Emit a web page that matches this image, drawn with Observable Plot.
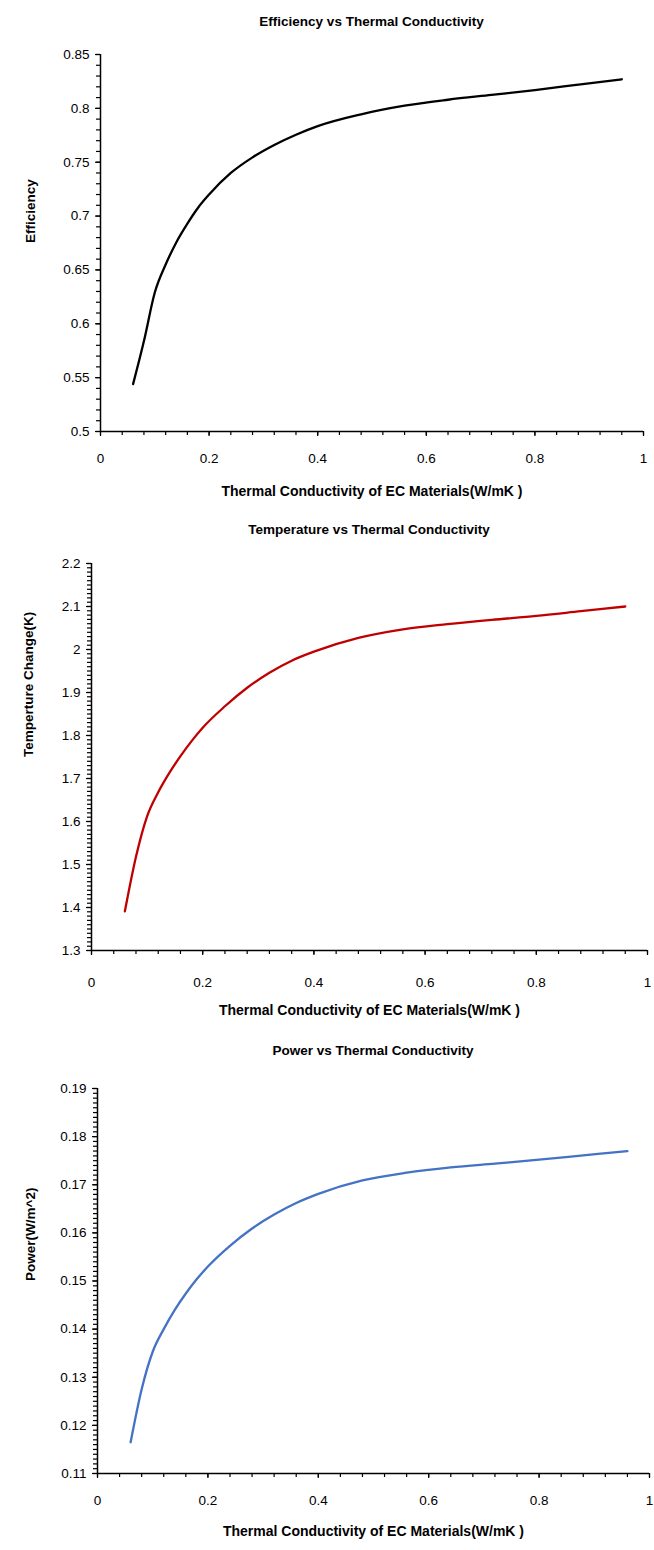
<!DOCTYPE html>
<html><head><meta charset="utf-8">
<script src="https://cdn.jsdelivr.net/npm/d3@7"></script>
<script src="https://cdn.jsdelivr.net/npm/@observablehq/plot@0.6"></script>
<style>
body{margin:0;background:#fff;font-family:"Liberation Sans",Arial,sans-serif;}
#wrap{position:relative;width:654px;height:1550px;overflow:hidden;}
.title{position:absolute;font-weight:bold;font-size:13.5px;white-space:nowrap;transform:translate(-50%,-50%);color:#000;}
#wrap svg{position:absolute;left:0;}
</style></head><body><div id="wrap"></div>
<script>
// ---- data ----
const conductivity = [0.06,0.08,0.1,0.12,0.14,0.16,0.18,0.2,0.24,0.28,0.32,0.36,0.4,0.48,0.56,0.64,0.72,0.8,0.88,0.96];
const efficiency   = [0.544,0.584,0.629,0.655,0.676,0.693,0.708,0.720,0.740,0.7545,0.766,0.7755,0.7835,0.7945,0.8025,0.808,0.8125,0.817,0.822,0.827];
const temperature  = [1.391,1.518,1.612,1.668,1.713,1.752,1.787,1.818,1.868,1.911,1.946,1.974,1.995,2.027,2.047,2.059,2.069,2.078,2.089,2.100];
const power        = [0.1165,0.1275,0.1353,0.1400,0.1440,0.1474,0.1504,0.1530,0.1573,0.1609,0.1638,0.1662,0.1681,0.1709,0.1725,0.1736,0.1744,0.1752,0.1761,0.1770];

const chartTitles = ["Efficiency vs Thermal Conductivity","Temperature vs Thermal Conductivity","Power vs Thermal Conductivity"];
const yTitles = ["Efficiency","Temperture Change(K)","Power(W/m^2)"];
const xTitle = "Thermal Conductivity of EC Materials(W/mK )";

const xTicks = [0,0.2,0.4,0.6,0.8,1];
const xMinorTicks = d3.range(0,1.0001,0.04);
const effTicks = [0.5,0.55,0.6,0.65,0.7,0.75,0.8,0.85];
const effMinor = d3.range(0.5,0.8501,0.01);
const tempTicks = [1.3,1.4,1.5,1.6,1.7,1.8,1.9,2,2.1,2.2];
const tempMinor = d3.range(1.3,2.2001,0.01);
const powTicks = [0.11,0.12,0.13,0.14,0.15,0.16,0.17,0.18,0.19];
const powMinor = d3.range(0.11,0.19001,0.001);

const colors = ["#000000","#C00000","#4472C4"];

// ---- layout ----
const layouts = [
  {svgTop:0,   svgH:515, left:100, right:643, top:54,   bottom:431,  xLabPad:17, xTitleY:495,  yTitleX:30, titleY:21},
  {svgTop:515, svgH:520, left:91,  right:647, top:563,  bottom:950,  xLabPad:22, xTitleY:1014, yTitleX:28, titleY:529},
  {svgTop:1035,svgH:515, left:97,  right:649, top:1088, bottom:1473, xLabPad:17, xTitleY:1535, yTitleX:30, titleY:1050}
];

const fmt = d => String(Math.round(d*10000)/10000);
const wrap = document.getElementById("wrap");

function makeChart(i, values, yTicks, yMinor) {
  const L = layouts[i];
  const data = conductivity.map((c, k) => ({x: c, y: values[k]}));
  const ymin = yTicks[0], ymax = yTicks[yTicks.length-1];
  const svg = Plot.plot({
    width: 654,
    height: L.svgH,
    marginLeft: L.left,
    marginRight: 654 - L.right,
    marginTop: L.top - L.svgTop,
    marginBottom: L.svgTop + L.svgH - L.bottom,
    style: {fontFamily: '"Liberation Sans", Arial, sans-serif', fontSize: "13.5px", color: "#000", background: "transparent", overflow: "visible"},
    x: {domain: [0, 1]},
    y: {domain: [ymin, ymax]},
    marks: [
      Plot.axisX({ticks: xMinorTicks, tickSize: 4, tickFormat: () => "", label: null, strokeWidth: 1.2}),
      Plot.axisX({ticks: xTicks, tickSize: 5, tickPadding: L.xLabPad, tickFormat: fmt, label: null, strokeWidth: 1.2}),
      Plot.axisY({ticks: yMinor, tickSize: 4, tickFormat: () => "", label: null, strokeWidth: 1.2}),
      Plot.axisY({ticks: yTicks, tickSize: 5, tickPadding: 6, tickFormat: fmt, label: null, strokeWidth: 1.2}),
      Plot.ruleX([0], {stroke: "#000", strokeWidth: 1.5}),
      Plot.ruleY([ymin], {stroke: "#000", strokeWidth: 1.5}),
      Plot.line(data, {x: "x", y: "y", stroke: colors[i], strokeWidth: 2.3, curve: "monotone-x"}),
      Plot.text([xTitle], {text: d => d, frameAnchor: "bottom", dy: L.xTitleY - L.bottom, fontWeight: "bold", fontSize: 14}),
      Plot.text([yTitles[i]], {text: d => d, frameAnchor: "left", dx: L.yTitleX - L.left, rotate: -90, fontWeight: "bold", fontSize: 13.5})
    ]
  });
  svg.style.top = L.svgTop + "px";
  wrap.appendChild(svg);
  const t = document.createElement("div");
  t.className = "title";
  t.textContent = chartTitles[i];
  t.style.left = ((L.left + L.right) / 2) + "px";
  t.style.top = L.titleY + "px";
  wrap.appendChild(t);
}

makeChart(0, efficiency, effTicks, effMinor);
makeChart(1, temperature, tempTicks, tempMinor);
makeChart(2, power, powTicks, powMinor);
</script>
</body></html>
